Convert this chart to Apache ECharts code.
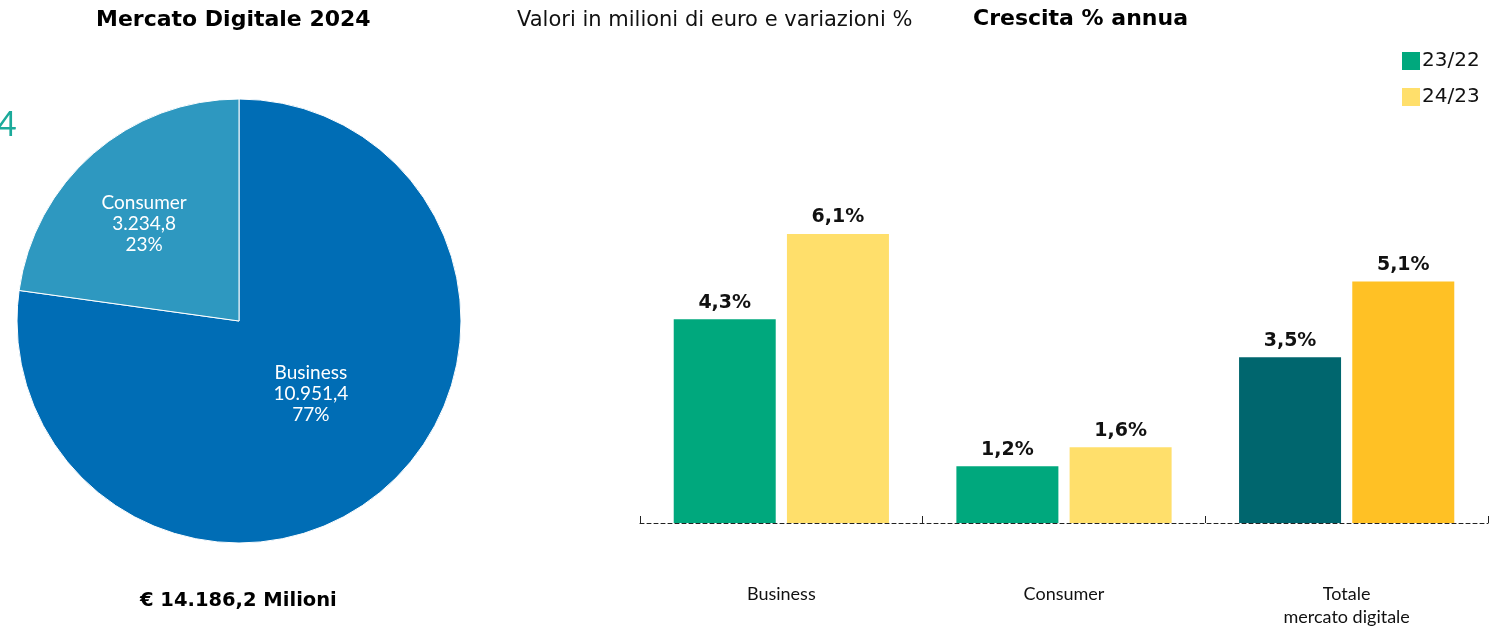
<!DOCTYPE html>
<html><head><meta charset="utf-8">
<script src="https://cdn.jsdelivr.net/npm/echarts@6/dist/echarts.min.js"></script>
<style>html,body{margin:0;padding:0;background:#fff}#c{width:1503px;height:630px}</style>
</head><body><div id="c"></div>
<script>
const pieNames = ['Business', 'Consumer'];
const pieValues = [10951.4, 3234.8];
const pieShares = ['77%', '23%'];
const pieLabels = ['10.951,4', '3.234,8'];
const barCategories = ['Business', 'Consumer', 'Totale\nmercato digitale'];
const series2322 = [4.3, 1.2, 3.5];
const series2423 = [6.1, 1.6, 5.1];
const seriesNames = ['23/22', '24/23'];

const FONT = 'Lato, "Open Sans", sans-serif';
const DV = '"DejaVu Sans", sans-serif';
const fmt = v => v.toFixed(1).replace('.', ',') + '%';

const chart = echarts.init(document.getElementById('c'));
chart.setOption({
  animation: false,
  textStyle: { fontFamily: FONT },
  graphic: [
    { type: 'text', left: 96, top: 9, style: { text: 'Mercato Digitale 2024', font: 'bold 22px ' + DV, fill: '#000' } },
    { type: 'text', left: 517, top: 10, style: { text: 'Valori in milioni di euro e variazioni %', font: '21px ' + DV, fill: '#111' } },
    { type: 'text', left: 973, top: 8, style: { text: 'Crescita % annua', font: 'bold 22px ' + DV, fill: '#000' } },
    { type: 'text', left: 140, top: 591, style: { text: '€ 14.186,2 Milioni', font: 'bold 19.5px ' + DV, fill: '#000' } },
    { type: 'text', left: -3, top: 108, style: { text: '4', font: '34px ' + FONT, fill: '#1BAA9A' } }
  ],
  legend: {
    orient: 'vertical', left: 1397, top: 46, itemWidth: 18, itemHeight: 18, itemGap: 16,
    icon: 'rect', data: seriesNames,
    textStyle: { fontSize: 20, fontFamily: DV, color: '#111', padding: [0, 0, 0, -3] }
  },
  grid: { left: 640, right: 15, top: 144, bottom: 107 },
  xAxis: {
    type: 'category', data: barCategories,
    axisLine: { lineStyle: { color: '#222', type: [4, 3], width: 1 } },
    axisTick: { show: true, inside: true, length: 7, lineStyle: { color: '#222', width: 1 } },
    axisLabel: { margin: 60, fontSize: 18, lineHeight: 23, color: '#111' }
  },
  yAxis: { type: 'value', min: 0, max: 8, show: false, splitLine: { show: false } },
  series: [
    {
      type: 'pie', center: [239, 321], radius: 222, startAngle: 90, clockwise: true,
      itemStyle: { borderColor: '#fff', borderWidth: 1 },
      label: {
        position: 'inside', color: '#fff', fontSize: 19, lineHeight: 21,
        formatter: p => p.name + '\n' + pieLabels[p.dataIndex] + '\n' + pieShares[p.dataIndex]
      },
      labelLine: { show: false },
      emphasis: { disabled: true },
      data: pieNames.map((n, i) => ({
        name: n, value: pieValues[i],
        itemStyle: { color: i === 0 ? '#006DB5' : '#2E98C0' },
        label: i === 1 ? { offset: [-20, -11] } : { offset: [-3, -13] }
      }))
    },
    {
      name: seriesNames[0], type: 'bar', barWidth: 102, barGap: '11%',
      itemStyle: { color: '#00A87D' },
      label: { show: true, position: 'top', distance: 7, fontSize: 19, fontFamily: DV, fontWeight: 'bold', color: '#111', formatter: p => fmt(p.value) },
      data: series2322.map((v, i) => i === 2 ? { value: v, itemStyle: { color: '#00666E' } } : v)
    },
    {
      name: seriesNames[1], type: 'bar', barWidth: 102,
      itemStyle: { color: '#FFDF6B' },
      label: { show: true, position: 'top', distance: 7, fontSize: 19, fontFamily: DV, fontWeight: 'bold', color: '#111', formatter: p => fmt(p.value) },
      data: series2423.map((v, i) => i === 2 ? { value: v, itemStyle: { color: '#FFC125' } } : v)
    }
  ]
});
</script></body></html>
